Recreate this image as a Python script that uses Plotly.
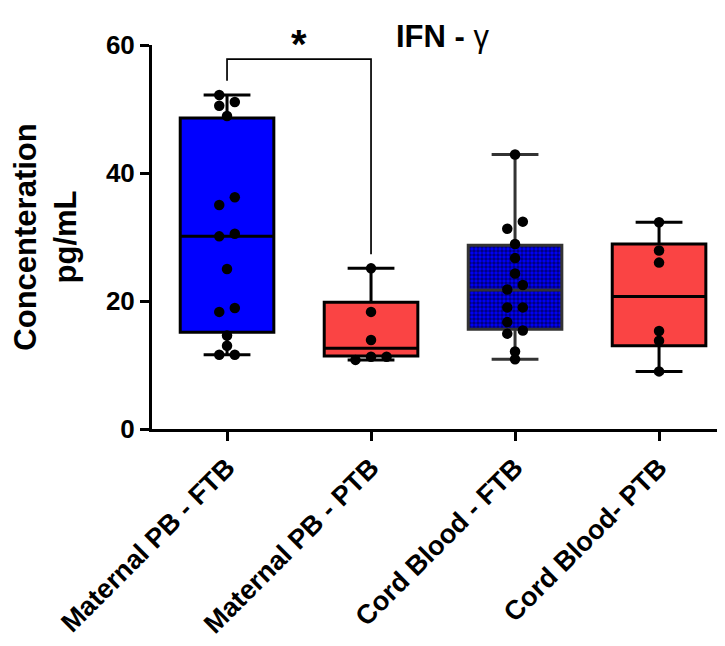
import plotly.graph_objects as go

categories = ["Maternal PB - FTB", "Maternal PB - PTB", "Cord Blood - FTB", "Cord Blood- PTB"]

# summary statistics
upper = [52.2, 25.1, 42.9, 32.3]
q3 = [48.6, 19.8, 28.7, 28.9]
median = [30.1, 12.6, 21.7, 20.7]
q1 = [15.1, 11.4, 15.6, 13.0]
lower = [11.6, 10.8, 10.9, 9.0]

# individual points per group, with jitter lanes (-1 left, 0 centre, 1 right)
pts_mat_ftb = [52.2, 51.1, 50.5, 48.9, 36.2, 35.0, 30.5, 30.1, 25.0, 18.9, 18.3, 14.6, 13.0, 11.6, 11.6]
lane_mat_ftb = [-1, 1, -1, 0, 1, -1, 1, -1, 0, 1, -1, 0, 0, -1, 1]
pts_mat_ptb = [25.1, 18.3, 13.9, 11.3, 11.3, 10.8]
lane_mat_ptb = [0, 0, 0, 0, 2, -2]
pts_cord_ftb = [42.9, 32.4, 31.3, 28.9, 26.7, 24.3, 22.5, 21.8, 19.0, 19.0, 16.7, 15.4, 14.9, 12.1, 10.9]
lane_cord_ftb = [0, 1, -1, 0, 0, 0, 1, -1, -1, 1, -1, 1, -1, 0, 0]
pts_cord_ptb = [32.3, 27.9, 26.0, 15.3, 13.8, 9.0]
lane_cord_ptb = [0, 0, 0, 0, 0, 0]

points = [pts_mat_ftb, pts_mat_ptb, pts_cord_ftb, pts_cord_ptb]
lanes = [lane_mat_ftb, lane_mat_ptb, lane_cord_ftb, lane_cord_ptb]

fills = ["#0000FF", "#FA4444", "#0000FF", "#FA4444"]
edges = ["#000000", "#000000", "#333333", "#000000"]
BOXW = 0.65
JIT = 0.054
FONT = "Arial, Liberation Sans, sans-serif"

fig = go.Figure()

# patterned fill for the Cord Blood - FTB box
fig.add_trace(go.Bar(
    x=[2], base=[q1[2]], y=[q3[2] - q1[2]], width=BOXW,
    marker=dict(color="#0000FF", line=dict(width=0),
                pattern=dict(shape=".", fgcolor="#000000", bgcolor="#0000FF",
                             size=4, solidity=0.6, fillmode="overlay")),
    showlegend=False, hoverinfo="skip"))

for i in range(4):
    fig.add_trace(go.Box(
        x=[i], q1=[q1[i]], median=[median[i]], q3=[q3[i]],
        lowerfence=[lower[i]], upperfence=[upper[i]],
        width=BOXW, whiskerwidth=0.5, boxpoints=False,
        fillcolor="rgba(0,0,0,0)" if i == 2 else fills[i],
        line=dict(color=edges[i], width=3),
        showlegend=False, hoverinfo="skip"))

for i in range(4):
    fig.add_trace(go.Scatter(
        x=[i + JIT * l for l in lanes[i]], y=points[i], mode="markers",
        marker=dict(color="black", size=10.5), showlegend=False, hoverinfo="skip"))

# significance bracket between group 0 and group 1
top = 57.8
fig.add_shape(type="path",
              path=f"M 0,{max(points[0]) + 2.2} L 0,{top} L 1,{top} L 1,{max(points[1]) + 2.2}",
              line=dict(color="black", width=1.7), xref="x", yref="y")
fig.add_annotation(x=0.5, xref="x", y=1.003, yref="paper", yanchor="middle",
                   text="<b>*</b>", showarrow=False,
                   font=dict(family=FONT, size=40, color="black"))

fig.add_annotation(x=1.5, xref="x", y=1.023, yref="paper", yanchor="middle",
                   text="<b>IFN - </b>γ", showarrow=False,
                   font=dict(family=FONT, size=31, color="black"))

fig.update_layout(
    width=717, height=638,
    margin=dict(l=144, r=0, t=37, b=217),
    plot_bgcolor="white", paper_bgcolor="white",
    font=dict(family=FONT, color="black"),
    bargap=0,
)
fig.update_xaxes(
    range=[-0.521, 3.458], tickvals=list(range(4)),
    ticktext=[f"<b>{c}</b>" for c in categories], tickangle=-45,
    tickfont=dict(size=27, family=FONT, color="black"),
    showline=True, linecolor="black", linewidth=3,
    ticks="outside", ticklen=9, tickwidth=3, tickcolor="black",
    showgrid=False, zeroline=False)
fig.update_yaxes(
    range=[0, 60], tickvals=[0, 20, 40, 60],
    ticktext=["<b>0</b>", "<b>20</b>", "<b>40</b>", "<b>60</b>"],
    tickfont=dict(size=26, family=FONT, color="black"),
    showline=True, linecolor="black", linewidth=3,
    ticks="outside", ticklen=9, tickwidth=3, tickcolor="black",
    showgrid=False, zeroline=False,
    title=dict(text="<b>Concenteration<br>pg/mL</b>", font=dict(size=31, family=FONT, color="black"),
               standoff=22))

fig.write_html("out.html")
